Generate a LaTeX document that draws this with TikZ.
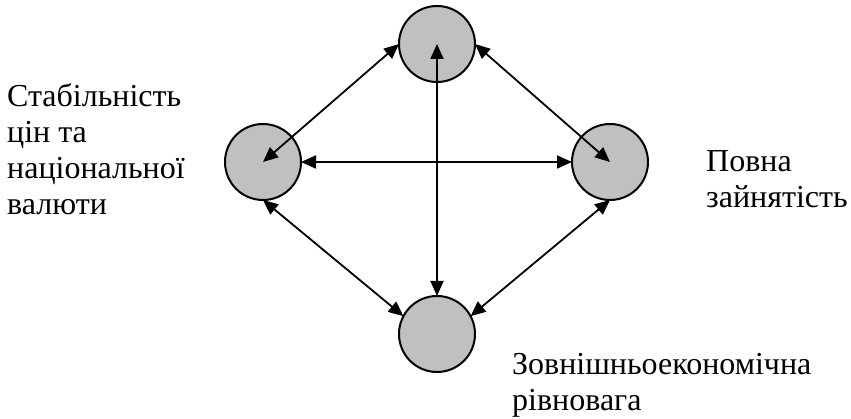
\documentclass[tikz,border=0pt]{standalone}
\usepackage{fontspec}
\setmainfont{Liberation Serif}
\usepackage{tikz}
\usetikzlibrary{shapes.geometric,arrows.meta}
\definecolor{goalgray}{RGB}{192,192,192}
\tikzstyle{goal} = [circle, minimum size = 76pt, inner sep = 0pt, outer sep = 0pt, draw = black, line width = 2pt, fill = goalgray]
\tikzstyle{arrow} = [line width = 1.8pt,{Triangle[length=15pt,width=13pt]}-{Triangle[length=15pt,width=13pt]}]
\tikzstyle{label} = [align = left, anchor = base west, inner sep = 0pt, font = \rmfamily\fontsize{32}{36}\selectfont]

\begin{document}
\begin{tikzpicture}[x = 1pt, y = -1pt]
\useasboundingbox (0,0) rectangle (851,419);

\node(top) [goal] at (437,44) {};
\node(left) [goal] at (263,162) {};
\node(right) [goal] at (610,162) {};
\node(bottom) [goal] at (437,334) {};

% base anchor sits on the last line
\node(prices) [label] at (7,215) {Стабільність\\цін та\\національної\\валюти};
\node(jobs) [label] at (706,208) {Повна\\зайнятість};
\node(trade) [label] at (512,410) {Зовнішньоекономічна\\рівновага};


\draw [arrow] (left.center) -- (top.west);
\draw [arrow] (top.east) -- (right.center);
\draw [arrow] (left.east) -- (right.west);
\draw [arrow] (bottom.north) -- (top.center);
\draw [arrow] (left.south) -- (bottom.152);
\draw [arrow] (right.south) -- (bottom.28);


\end{tikzpicture}
\end{document}
